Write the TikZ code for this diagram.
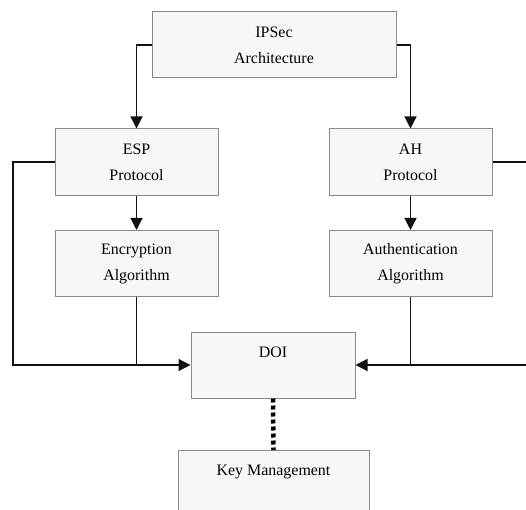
\documentclass[tikz,border=0pt]{standalone}
\usepackage{fontspec}
\setmainfont{Liberation Serif}
\usetikzlibrary{
  arrows.meta,
  positioning,
  calc
}
\definecolor{boxfill}{HTML}{F7F7F7}
\definecolor{boxline}{HTML}{8A8A8A}
\definecolor{wire}{HTML}{111111}

\begin{document}
\begin{tikzpicture}[
    x=1bp, y=-1bp,
    >={Triangle[length=12bp,width=12bp]},
    block/.style={
      draw=boxline, fill=boxfill, line width=1bp,
      minimum height=66bp, inner sep=0pt,
      align=center, font=\fontsize{16}{26}\selectfont
      },
    link/.style={draw=wire, line width=1.2bp},
    keylink/.style={draw=black, line width=4.5bp, dash pattern=on 4bp off 3bp}
    ]
    
    \useasboundingbox (0,0) rectangle (526,510);
    \clip (0,0) rectangle (526,510);
    
    % boxes
    \node[block, minimum width=244bp] (ipsec) at (274,45) {IPSec\\Architecture};
    \node[block, minimum width=163bp] (esp) at (136.5,162) {ESP\\Protocol};
    \node[block, minimum width=163bp] (ah) at (410.5,162) {AH\\Protocol};
    \node[block, minimum width=163bp] (enc) at (136.5,263.5) {Encryption\\Algorithm};
    \node[block, minimum width=163bp] (auth) at (410.5,263.5) {Authentication\\Algorithm};
    \node[block, minimum width=164bp] (doi) at (273,365) {DOI\\\mbox{}};
    \node[block, minimum width=191bp, anchor=north] (key) at (273.5,450) {Key Management\\\mbox{}};
    
    % corners of the outer loops
    \coordinate (lcorner) at (13,365);
    \coordinate (rcorner) at (540,365);
    
    % connectors
    \draw[link,->] (ipsec.west) -| (esp.north);
    \draw[link,->] (ipsec.east) -| (ah.north);
    \draw[link,->] (esp) -- (enc);
    \draw[link,->] (ah) -- (auth);
    
    \draw[link,->] (esp.west) -| (lcorner) -- (doi.west);
    \draw[link,->] (ah.east) -| (rcorner) -- (doi.east);
    \draw[link] (enc.south) -- (enc.south |- doi.west);
    \draw[link] (auth.south) -- (auth.south |- doi.east);
    
    \draw[keylink] (doi.south) -- (key.north);
    
\end{tikzpicture}
\end{document}
